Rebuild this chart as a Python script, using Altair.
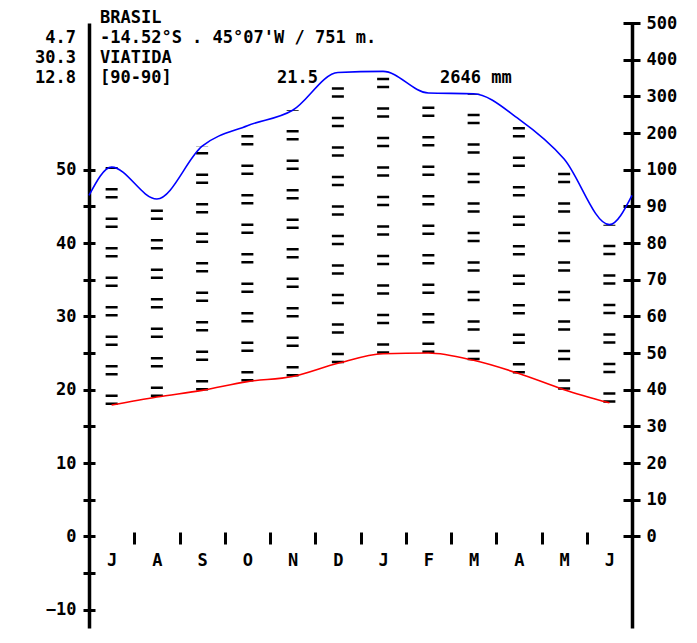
import altair as alt
import pandas as pd

# ---- data (Walter-Lieth style climate diagram) ----
months = ["J", "A", "S", "O", "N", "D", "J", "F", "M", "A", "M", "J"]
temp_c = [17.9, 19.0, 19.9, 21.1, 21.8, 23.6, 24.9, 25.0, 24.0, 22.2, 20.0, 18.2]
prec_mm = [107, 92, 164, 220, 262, 365, 368, 309, 307, 238, 129, 85]
prec_edge_mm = [93, 93]          # curve value at the left / right frame edge
temp_tick_values = [-10, -5, 0, 5, 10, 15, 20, 25, 30, 35, 40, 45, 50]
temp_label_values = [-10, 0, 10, 20, 30, 40, 50]
prec_tick_values = [0, 10, 20, 30, 40, 50, 60, 70, 80, 90, 100, 200, 300, 400, 500]

station = "BRASIL"
coords = "-14.52°S  .  45°07'W  /  751 m."
place = "VIATIDA"
years = "[90-90]"
mean_temp = "21.5"
annual_prec = "2646 mm"
left_vals = ["4.7", "30.3", "12.8"]

# ---- layout ----
W, H = 543, 605
YMIN, YMAX = -12.5, 70
FONT = "DejaVu Sans Mono"
FS = 17

pos = [i + 0.5 for i in range(12)]
df = pd.DataFrame({"pos": pos, "month": months, "t": temp_c, "p": prec_mm})
dfp = pd.DataFrame({"pos": [0] + pos + [12],
                    "p": [prec_edge_mm[0]] + prec_mm + [prec_edge_mm[1]]})

# precipitation -> temperature units (10 °C = 20 mm, above 100 mm: 5 °C = 100 mm)
P2T = "datum.p <= 100 ? datum.p / 2 : 50 + (datum.p - 100) / 20"
prec_tick_pos = [p / 2 if p <= 100 else 50 + (p - 100) / 20 for p in prec_tick_values]
prec_label_expr = ("datum.value <= 50 ? format(datum.value * 2, 'd') : "
                   "format(100 + (datum.value - 50) * 20, 'd')")
month_expr = "[" + ",".join("'%s'" % m for m in months) + "][floor(datum.value)]"

xs = alt.Scale(domain=[0, 12], nice=False, zero=False)
ys = alt.Scale(domain=[YMIN, YMAX], nice=False, zero=False)

lab = dict(labelFont=FONT, labelFontSize=FS, labelFontWeight="bold",
           labelColor="black", title=None, grid=False)

# hatching between temperature and precipitation curves
hatch = alt.Chart(df).transform_calculate(pt=P2T).mark_rule(
    color="black", strokeWidth=12, strokeDash=[2.5, 5.5, 2.5, 19], strokeCap="butt"
).encode(
    x=alt.X("pos:Q", scale=xs, axis=alt.Axis(
        orient="bottom", values=pos, labelExpr=month_expr, ticks=False, tickSize=0,
        domain=False, labelPadding=0, offset=-76, labelFlush=False,
        labelOverlap=False, **lab)),
    y=alt.Y("t:Q", scale=ys, axis=alt.Axis(
        orient="left", values=temp_label_values, ticks=False, tickSize=0,
        domain=True, domainWidth=3.5, domainColor="black", labelPadding=13,
        labelOverlap=False, **lab)),
    y2="pt:Q",
)

temp_line = alt.Chart(df).mark_line(
    color="#ff0000", strokeWidth=1.6, interpolate="monotone"
).encode(
    x=alt.X("pos:Q", scale=xs, axis=alt.Axis(
        orient="bottom", values=list(range(1, 12)), labels=False, domain=False,
        ticks=True, tickSize=12, tickWidth=3, tickColor="black", offset=-96,
        title=None, grid=False)),
    y=alt.Y("t:Q", scale=ys, axis=alt.Axis(
        orient="left", values=temp_tick_values, labels=False, domain=False,
        ticks=True, tickSize=12, tickWidth=3, tickColor="black", offset=-6,
        title=None, grid=False)),
)

prec_line = alt.Chart(dfp).transform_calculate(pt=P2T).mark_line(
    color="#0000ff", strokeWidth=1.6, interpolate="monotone"
).encode(
    x=alt.X("pos:Q", scale=xs, axis=None),
    y=alt.Y("pt:Q", scale=ys, axis=alt.Axis(
        orient="right", values=prec_tick_pos, labelExpr=prec_label_expr,
        ticks=False, tickSize=0, domain=True, domainWidth=3.5,
        domainColor="black", labelPadding=14, labelOverlap=False, **lab)),
)

prec_ticks = alt.Chart(dfp).transform_calculate(pt=P2T).mark_point(opacity=0).encode(
    x=alt.X("pos:Q", scale=xs, axis=None),
    y=alt.Y("pt:Q", scale=ys, axis=alt.Axis(
        orient="right", values=prec_tick_pos, labels=False, domain=False,
        ticks=True, tickSize=17, tickWidth=3, tickColor="black", offset=-9,
        title=None, grid=False)),
)


def label(text, x, y, align="left"):
    return alt.Chart(pd.DataFrame({"s": [text]})).mark_text(
        font=FONT, fontSize=FS, fontWeight="bold", color="black",
        align=align, baseline="middle"
    ).encode(text="s:N", x=alt.value(x), y=alt.value(y))


texts = [
    label(station, 11, -5),
    label(coords, 11, 15),
    label(place, 11, 35),
    label(years, 11, 55),
    label(mean_temp, 188, 55),
    label(annual_prec, 351, 55),
    label(left_vals[0], -13, 15, "right"),
    label(left_vals[1], -13, 35, "right"),
    label(left_vals[2], -13, 55, "right"),
]

chart = alt.layer(hatch, temp_line, prec_line, prec_ticks, *texts).resolve_axis(
    x="independent", y="independent"
).properties(
    width=W, height=H,
    autosize=alt.AutoSizeParams(type="none"),
    padding={"left": 81, "top": 15, "right": 49, "bottom": 2},
    background="white",
).configure_view(stroke=None)

chart.save("out.html", embed_options={"renderer": "svg", "actions": False})
